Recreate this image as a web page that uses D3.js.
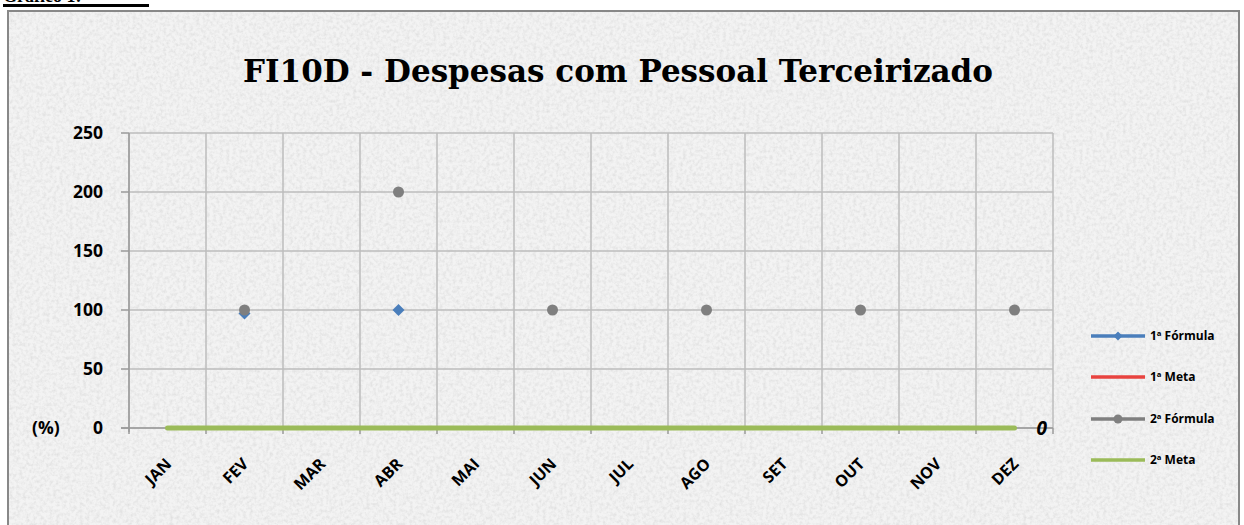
<!DOCTYPE html>
<html><head><meta charset="utf-8">
<script src="https://cdn.jsdelivr.net/npm/d3@7"></script>
<style>html,body{margin:0;padding:0;background:#fff;}svg{display:block;}</style>
</head><body>
<svg id="chart" width="1244" height="525"></svg>
<script>
const months = ["JAN","FEV","MAR","ABR","MAI","JUN","JUL","AGO","SET","OUT","NOV","DEZ"];
const formula1 = [null,97,null,100,null,null,null,null,null,null,null,null];
const meta1 = [0,0,0,0,0,0,0,0,0,0,0,0];
const formula2 = [null,100,null,200,null,100,null,100,null,100,null,100];
const meta2 = [0,0,0,0,0,0,0,0,0,0,0,0];
const yTicks = [0,50,100,150,200,250];
const seriesNames = ["1ª Fórmula","1ª Meta","2ª Fórmula","2ª Meta"];
const seriesColors = ["#4a7ebb","#e8433f","#7f7f7f","#9bbb59"];
const title = "FI10D - Despesas com Pessoal Terceirizado";
const lastLabel = "0";

const svg = d3.select("#chart");
const defs = svg.append("defs");
const f = defs.append("filter").attr("id","tex").attr("x",0).attr("y",0).attr("width","100%").attr("height","100%");
f.append("feTurbulence").attr("type","fractalNoise").attr("baseFrequency","0.3").attr("numOctaves",3).attr("seed",4).attr("result","n");
f.append("feColorMatrix").attr("in","n").attr("type","matrix")
  .attr("values","0 0 0 0 0.6  0 0 0 0 0.6  0 0 0 0 0.6  0 0 0 -1.8 1.1").attr("result","c");
f.append("feComposite").attr("in","c").attr("in2","SourceGraphic").attr("operator","in");

svg.append("rect").attr("x",8).attr("y",11).attr("width",1231).attr("height",520).attr("fill","#f3f3f3");
svg.append("rect").attr("x",8).attr("y",11).attr("width",1231).attr("height",520).attr("fill","#f3f3f3").attr("filter","url(#tex)").attr("opacity",0.5);
svg.append("rect").attr("x",8).attr("y",11).attr("width",1231).attr("height",530)
  .attr("fill","none").attr("stroke","#888").attr("stroke-width",2);

svg.append("text").attr("x",3).attr("y",2).attr("font-family","Liberation Serif, serif")
  .attr("font-weight","bold").attr("font-size",18).attr("fill","#000").text("Gráfico 1:");
svg.append("rect").attr("x",3).attr("y",4).attr("width",146).attr("height",3).attr("fill","#000");

const L=129, R=1053, T=133, B=428;
const x = d3.scaleBand().domain(months).range([L,R]);
const y = d3.scaleLinear().domain([0,250]).range([B,T]);
const cx = m => x(m)+x.bandwidth()/2;

const g = svg.append("g");
g.selectAll(".hg").data(yTicks).join("line")
  .attr("x1",L).attr("x2",R).attr("y1",d=>y(d)).attr("y2",d=>y(d))
  .attr("stroke","#bdbdbd").attr("stroke-width",1.5);
const bounds = months.map(m=>x(m)).concat([R]);
g.selectAll(".vg").data(bounds).join("line")
  .attr("x1",d=>d).attr("x2",d=>d).attr("y1",T).attr("y2",B)
  .attr("stroke","#bdbdbd").attr("stroke-width",1.5);
g.append("line").attr("x1",L).attr("x2",L).attr("y1",T).attr("y2",B+4).attr("stroke","#9a9a9a").attr("stroke-width",1.5);
g.append("line").attr("x1",L-8).attr("x2",R).attr("y1",B).attr("y2",B).attr("stroke","#9a9a9a").attr("stroke-width",1.5);
g.selectAll(".yt").data(yTicks).join("line")
  .attr("x1",L-8).attr("x2",L).attr("y1",d=>y(d)).attr("y2",d=>y(d)).attr("stroke","#9a9a9a").attr("stroke-width",1.5);
g.selectAll(".xt").data(bounds).join("line")
  .attr("x1",d=>d).attr("x2",d=>d).attr("y1",B).attr("y2",B+6).attr("stroke","#9a9a9a").attr("stroke-width",1.5);

g.selectAll(".yl").data(yTicks).join("text")
  .attr("x",103).attr("y",d=>y(d)).attr("dy","0.35em").attr("text-anchor","end")
  .attr("font-family","Open Sans, sans-serif").attr("font-weight","bold").attr("font-size",17.5).attr("fill","#000")
  .text(d=>d);
g.append("text").attr("x",32).attr("y",B).attr("dy","0.35em")
  .attr("font-family","Open Sans, sans-serif").attr("font-weight","bold").attr("font-size",17.5).text("(%)");

g.selectAll(".xl").data(months).join("text")
  .attr("transform",d=>`translate(${cx(d)+1},${B+33}) rotate(-45)`)
  .attr("text-anchor","end").attr("dy","0.35em")
  .attr("font-family","Open Sans, sans-serif").attr("font-weight","bold").attr("font-size",16).attr("fill","#000")
  .text(d=>d);

const line = d3.line().defined(d=>d.v!==null).x(d=>cx(d.m)).y(d=>y(d.v));
const mk = arr => months.map((m,i)=>({m, v:arr[i]}));
svg.append("path").datum(mk(meta1)).attr("d",line).attr("fill","none").attr("stroke",seriesColors[1]).attr("stroke-width",4);
svg.append("path").datum(mk(meta2)).attr("d",line).attr("fill","none").attr("stroke",seriesColors[3]).attr("stroke-width",5).attr("stroke-linecap","round");
svg.append("path").datum(mk(formula1)).attr("d",line).attr("fill","none").attr("stroke",seriesColors[0]).attr("stroke-width",3);
svg.append("path").datum(mk(formula2)).attr("d",line).attr("fill","none").attr("stroke",seriesColors[2]).attr("stroke-width",3);

svg.selectAll(".f1").data(mk(formula1).filter(d=>d.v!==null)).join("path")
  .attr("d",d3.symbol(d3.symbolSquare,72)())
  .attr("transform",d=>`translate(${cx(d.m)},${y(d.v)}) rotate(45)`)
  .attr("fill",seriesColors[0]);
svg.selectAll(".f2").data(mk(formula2).filter(d=>d.v!==null)).join("circle")
  .attr("cx",d=>cx(d.m)).attr("cy",d=>y(d.v)).attr("r",5.5).attr("fill",seriesColors[2]);

svg.append("text").attr("x",cx(months[11])+22).attr("y",y(meta2[11])).attr("dy","0.35em")
  .attr("font-family","Open Sans, sans-serif").attr("font-weight","bold").attr("font-style","italic").attr("font-size",19)
  .text(lastLabel);

svg.append("text").attr("x",618).attr("y",82).attr("text-anchor","middle")
  .attr("font-family","DejaVu Serif, serif").attr("font-weight","bold").attr("font-size",31).attr("fill","#000")
  .text(title);

const ly = [336,377,419,460];
const lg = svg.append("g");
seriesNames.forEach((n,i)=>{
  const yy = ly[i];
  lg.append("line").attr("x1",1091).attr("x2",1145).attr("y1",yy).attr("y2",yy)
    .attr("stroke",seriesColors[i]).attr("stroke-width",3.5);
  if(i===0){
    lg.append("path").attr("d",d3.symbol(d3.symbolSquare,40)()).attr("transform",`translate(1118,${yy}) rotate(45)`).attr("fill",seriesColors[0]);
  }
  if(i===2){
    lg.append("circle").attr("cx",1118).attr("cy",yy).attr("r",4.5).attr("fill",seriesColors[2]);
  }
  lg.append("text").attr("x",1150).attr("y",yy).attr("dy","0.35em")
    .attr("font-family","Open Sans, sans-serif").attr("font-weight","bold").attr("font-size",12).attr("fill","#000").text(n);
});
</script>
</body></html>
